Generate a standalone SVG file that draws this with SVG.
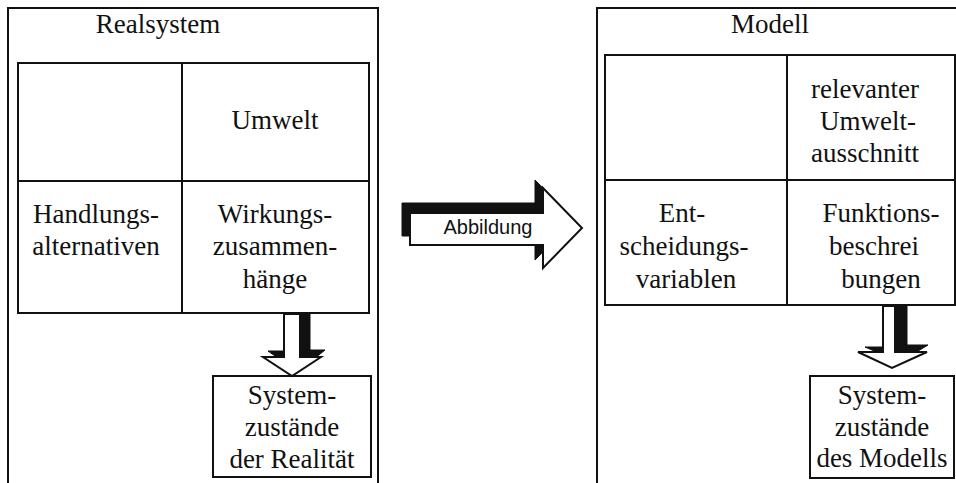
<svg xmlns="http://www.w3.org/2000/svg" width="956" height="483" viewBox="0 0 956 483">
<defs>
<style>
.frame{fill:none;stroke:#111;stroke-width:2}
.cell{fill:#fff;stroke:#111;stroke-width:2}
.t{font-family:"Liberation Serif","Times New Roman",serif;font-size:27px;fill:#111;text-anchor:middle}
.lbl{font-family:"Liberation Sans",Arial,sans-serif;font-size:20px;fill:#111;text-anchor:middle}
.shadow{fill:#111;stroke:#111;stroke-width:1}
.arrow{fill:#fff;stroke:#111;stroke-width:2;stroke-linejoin:miter}
</style>
</defs>
<rect width="956" height="483" fill="#fff"/>

<g id="realsystem">
<path class="frame" d="M8,483 V8 H378 V483"/>
<text class="t" x="158" y="33">Realsystem</text>
</g>
<g id="real-grid">
<rect class="cell" x="18" y="63" width="351" height="250"/>
<line class="frame" x1="182" y1="63" x2="182" y2="313"/>
<line class="frame" x1="18" y1="181" x2="369" y2="181"/>
</g>
<g id="real-umwelt"><text class="t" x="275" y="129">Umwelt</text></g>
<g id="real-handlung">
<text class="t" x="96" y="223">Handlungs-</text>
<text class="t" x="96" y="255">alternativen</text>
</g>
<g id="real-wirkung">
<text class="t" x="275" y="223">Wirkungs-</text>
<text class="t" x="275" y="255">zusammen-</text>
<text class="t" x="275" y="288">hänge</text>
</g>
<g id="real-zustaende">
<rect class="cell" x="213" y="376" width="158" height="101"/>
<text class="t" x="292" y="404">System-</text>
<text class="t" x="292" y="436">zustände</text>
<text class="t" x="292" y="468">der Realität</text>
</g>

<g id="modell">
<path class="frame" d="M597,483 V8 H962"/>
<text class="t" x="770" y="33">Modell</text>
</g>
<g id="modell-grid">
<rect class="cell" x="605" y="55" width="350" height="250"/>
<line class="frame" x1="787" y1="55" x2="787" y2="305"/>
<line class="frame" x1="605" y1="180" x2="955" y2="180"/>
</g>
<g id="modell-umwelt">
<text class="t" x="865" y="98">relevanter</text>
<text class="t" x="868" y="130">Umwelt-</text>
<text class="t" x="865" y="162">ausschnitt</text>
</g>
<g id="modell-entscheidung">
<text class="t" x="682" y="222">Ent-</text>
<text class="t" x="684" y="255">scheidungs-</text>
<text class="t" x="686" y="288">variablen</text>
</g>
<g id="modell-funktion">
<text class="t" x="881" y="222">Funktions-</text>
<text class="t" x="874" y="255">beschrei</text>
<text class="t" x="881" y="288">bungen</text>
</g>
<g id="modell-zustaende">
<rect class="cell" x="810" y="376" width="144" height="102"/>
<text class="t" x="882" y="404">System-</text>
<text class="t" x="882" y="436">zustände</text>
<text class="t" x="882" y="467">des Modells</text>
</g>

<g id="connectors">
<g id="arrow-real">
<polygon class="shadow" points="290,313 310,313 310,350 325,350 298,372 268,351 290,351"/>
<polygon class="arrow" points="284,314 300,314 300,357 321,357 292,376 263,357 284,357"/>
</g>
<g id="arrow-modell">
<polygon class="shadow" points="888,306 907,306 907,345 928,345 900,362 865,347 888,347"/>
<polygon class="arrow" points="883,306 895,306 895,352 927,352 892,368 858,352 883,352"/>
</g>
<g id="arrow-abbildung">
<polygon class="shadow" points="402,203 535,203 535,180 574,220 535,260 535,236 402,236"/>
<polygon class="arrow" points="410,213 543,213 543,188 582,228 543,268 543,245 410,245"/>
<text class="lbl" x="488" y="234">Abbildung</text>
</g>
</g>
</svg>
